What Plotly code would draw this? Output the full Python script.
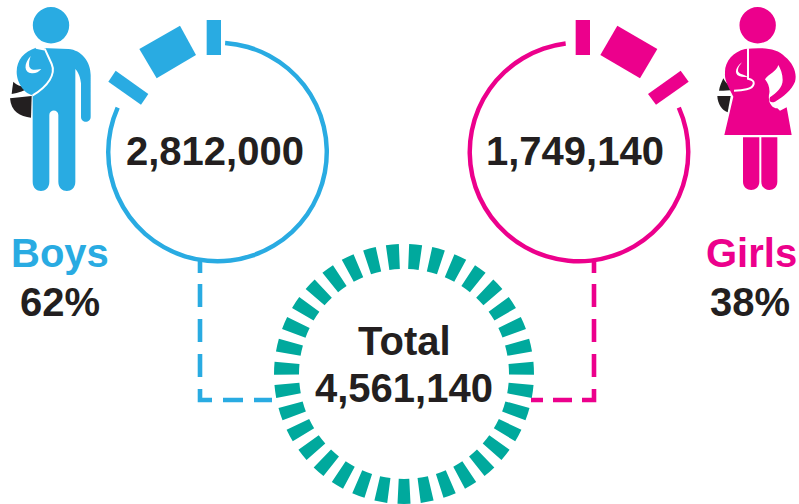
import re
import plotly.graph_objects as go

# ---- data ----
groups = ["Boys", "Girls"]
counts = ["2,812,000", "1,749,140"]
shares = ["62%", "38%"]
total_label = "Total"
total_count = "4,561,140"
boys_ring = [290, 70]      # drawn arc, open arc (degrees)
girls_ring = [287, 73]
total_ticks = 35
total_tick_parts = [5.75, 4.54]  # tick, gap (degrees)

BLUE, PINK, TEAL, INK = "#29ABE2", "#EC008C", "#00A99D", "#231F20"
W, H = 799, 504
NONE = "rgba(0,0,0,0)"


def dom(cx, cy, r):
    return dict(x=[(cx - r) / W, (cx + r) / W], y=[1 - (cy + r) / H, 1 - (cy - r) / H])


def ring(values, colors, rotation, cx, cy, r, hole):
    return go.Pie(values=values, sort=False, direction="clockwise", rotation=rotation,
                  hole=hole, domain=dom(cx, cy, r), textinfo="none", showlegend=False,
                  hoverinfo="skip", marker=dict(colors=colors, line=dict(width=0)))


def conn(xs, ys, color, dash):
    return go.Scatter(x=xs, y=ys, mode="lines", showlegend=False, hoverinfo="skip",
                      line=dict(color=color, width=4.6, dash=dash))


fig = go.Figure()
fig.add_trace(conn([200, 200, 272], [260, 400, 400], BLUE,
                   "13px,11px,23px,12px,23px,12px,23px,12px,23px,11px,20px,11px,20px"))
fig.add_trace(conn([594, 594, 531], [260, 400, 400], PINK,
                   "13px,11px,23px,12px,23px,12px,23px,12px,23px,10px,19px,10px,13px"))
fig.add_trace(ring(boys_ring, [BLUE, NONE], 4, 217.5, 152, 111.5, 0.96))
fig.add_trace(ring(girls_ring, [PINK, NONE], 66, 579, 152, 111.5, 0.96))
fig.add_trace(ring(total_tick_parts * total_ticks, [TEAL, NONE] * total_ticks,
                   180 - total_tick_parts[0] / 2, 404, 374, 130, 105 / 130))


def sp(path, ox=0):
    """Icon outlines were traced on a 3x grid; map them back to pixels."""
    return re.sub(r"(-?\d+\.?\d*),(-?\d+\.?\d*)",
                  lambda m: f"{float(m[1]) / 3 + ox:.2f},{float(m[2]) / 3:.2f}", path)


def fill(path, color, ox=0):
    return dict(type="path", path=sp(path, ox), fillcolor=color, line=dict(width=0), layer="above",
                xref="x", yref="y")


def stroke(path, width=2, ox=0, color="white"):
    return dict(type="path", path=sp(path, ox), fillcolor=NONE, line=dict(width=width, color=color),
                layer="above", xref="x", yref="y")


def circle(cx, cy, r, color):
    return dict(type="circle", x0=cx - r, x1=cx + r, y0=cy - r, y1=cy + r, fillcolor=color,
                line=dict(width=0), layer="above", xref="x", yref="y")


shapes = []
# boy blocks
shapes += [fill("M620,60 L663,60 L663,165 L620,165 Z", BLUE),
           fill("M418,147 L540,77 L588,165 L470,235 Z", BLUE),
           fill("M347,212 L445,282 L423,314 L325,245 Z", BLUE)]
# girl blocks
G = 560
shapes += [fill("M47,60 L90,60 L90,165 L47,165 Z", PINK, G),
           fill("M172,77 L292,147 L240,235 L121,165 Z", PINK, G),
           fill("M362,212 L386,245 L288,314 L264,282 Z", PINK, G)]

# boy figure
shapes.append(circle(51, 25.3, 18.2, BLUE))
shapes.append(fill("M40,245 C38,258 36,270 35,282 C55,280 75,272 92,262 C72,262 52,258 40,245 Z", INK))
shapes.append(fill("M30,295 L95,288 L93,353 C60,350 33,335 30,295 Z", INK))
shapes.append(fill(
    "M108,143 L205,147 C245,150 272,185 272,225 L272,350 C272,370 243,370 243,350 L243,250 "
    "C242,235 235,215 226,207 L226,545 C226,582 175,582 175,545 L175,345 C175,327 148,327 148,345 "
    "L148,545 C148,582 98,582 98,545 L98,285 C70,280 50,245 50,215 C50,180 72,155 108,143 Z", BLUE))
shapes.append(stroke("M134,146 L155,192 C168,222 145,258 98,286", 2))
shapes.append(stroke("M108,142 L134,147", 3))
shapes.append(fill("M92,168 C70,192 72,218 95,220 C107,221 116,216 124,207 C106,210 94,212 88,200 C86,190 88,180 92,168 Z", "white"))

# girl figure
shapes.append(circle(593 / 3 + G, 25.3, 18.2, PINK))
shapes.append(fill("M490,235 C484,248 479,260 477,272 C495,273 513,272 532,268 C515,265 498,252 490,235 Z", INK, G))
shapes.append(fill("M472,288 L512,288 L503,337 C485,330 473,312 472,288 Z", INK, G))
shapes.append(fill(
    "M555,147 C600,142 650,142 675,170 C700,190 712,220 705,245 C695,270 670,290 645,305 "
    "C630,310 626,302 630,292 C650,278 668,262 668,240 C668,222 662,208 655,195 "
    "C650,215 625,222 615,238 C625,250 630,265 628,280 C622,305 635,325 652,325 "
    "L660,332 L680,322 L695,405 L493,405 L520,290 "
    "C505,260 493,240 495,220 C493,185 520,155 555,147 Z", PINK, G))
shapes.append(stroke("M564,145 L564,236 C590,240 585,262 560,268 C545,272 530,272 522,272", 2, G))
shapes.append(fill("M546,187 C522,205 522,228 545,230 L566,232 C550,222 532,222 534,210 C534,202 540,195 546,187 Z", "white", G))
shapes.append(fill("M549,412 L598,412 L598,545 C598,578 549,578 549,545 Z", PINK, G))
shapes.append(fill("M604,412 L652,412 L652,545 C652,578 604,578 604,545 Z", PINK, G))


def label(x, y, text, color=INK, size=40):
    return dict(x=x, y=y, text=f"<b>{text}</b>", showarrow=False, xanchor="center", yanchor="middle",
                xref="x", yref="y", font=dict(family="Liberation Sans", size=size, color=color))


annotations = [
    label(215, 151, counts[0]),
    label(575, 151, counts[1]),
    label(60, 253, groups[0], BLUE),
    label(60, 302, shares[0]),
    label(751, 253, groups[1], PINK),
    label(750, 302, shares[1]),
    label(404, 341, total_label),
    label(404, 388, total_count),
]

fig.update_layout(
    width=W, height=H, autosize=False, margin=dict(l=0, r=0, t=0, b=0),
    paper_bgcolor="white", plot_bgcolor="white", showlegend=False,
    xaxis=dict(range=[0, W], visible=False, fixedrange=True),
    yaxis=dict(range=[H, 0], visible=False, fixedrange=True),
    shapes=shapes, annotations=annotations,
)
fig.write_html("out.html", config=dict(displayModeBar=False),
               post_script="document.documentElement.style.overflow='hidden';document.body.style.margin='0';")
